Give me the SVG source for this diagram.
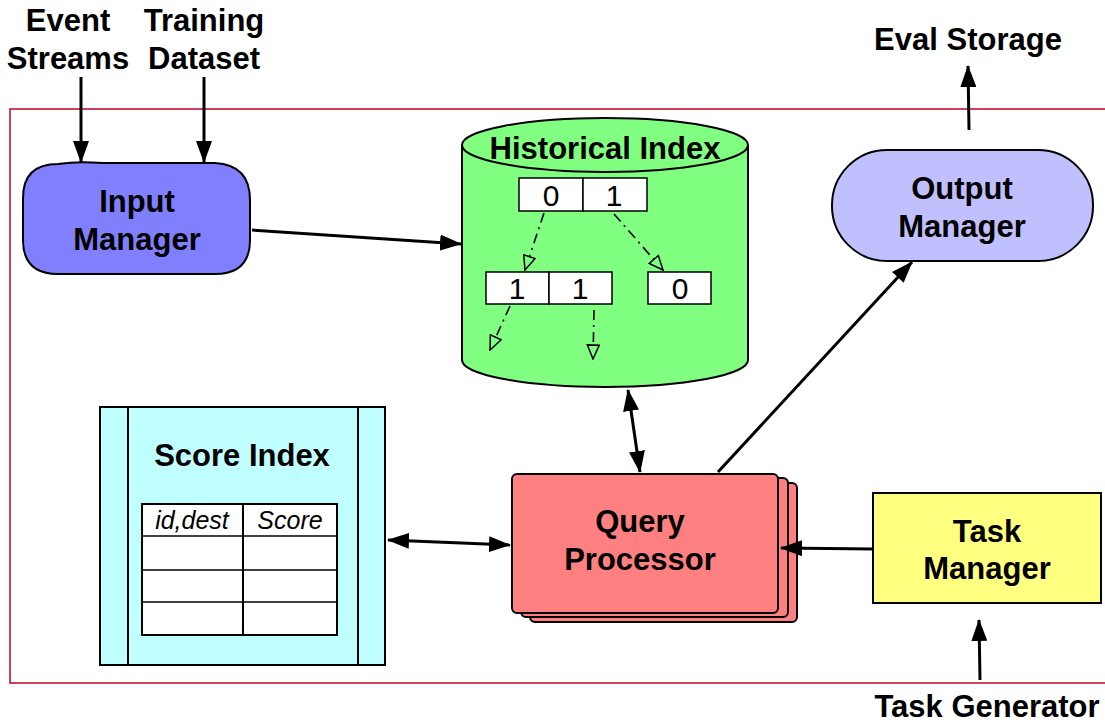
<svg xmlns="http://www.w3.org/2000/svg" width="1105" height="726" viewBox="0 0 1105 726">
<style>
.lbl{font-family:"Liberation Sans",Arial,sans-serif;font-weight:bold;font-size:31px;fill:#000;text-anchor:middle}
.num{font-family:"Liberation Sans",Arial,sans-serif;font-size:30px;fill:#000;text-anchor:middle}
.it{font-family:"Liberation Sans",Arial,sans-serif;font-style:italic;font-size:25px;fill:#000;text-anchor:middle}
.node{stroke:#000;stroke-width:2}
.conn{stroke:#000;stroke-width:3;fill:none}
.dd{stroke:#000;stroke-width:1.6;fill:none;stroke-dasharray:10 5 2 5}
.cell{fill:#fff;stroke:#000;stroke-width:1.5}
</style>
<defs>
<marker id="ah" viewBox="0 0 22 16" refX="21" refY="8" markerWidth="22" markerHeight="16" markerUnits="userSpaceOnUse" orient="auto-start-reverse">
<path d="M0,0 L22,8 L0,16 Z" fill="#000"/>
</marker>
<marker id="oh" viewBox="0 0 16 14" refX="15" refY="7" markerWidth="16" markerHeight="14" markerUnits="userSpaceOnUse" orient="auto">
<path d="M1,1 L15,7 L1,13 Z" fill="#80ff80" stroke="#000" stroke-width="1.5"/>
</marker>
</defs>
<rect width="1105" height="726" fill="#fff"/>
<rect id="frame" x="10" y="109" width="1110" height="574" fill="none" stroke="#c0002a" stroke-width="1.5"/>

<g id="labels">
<text class="lbl" x="68" y="31">Event</text>
<text class="lbl" x="68" y="69">Streams</text>
<text class="lbl" x="204" y="31">Training</text>
<text class="lbl" x="204" y="69">Dataset</text>
<text class="lbl" x="968" y="50">Eval Storage</text>
<text class="lbl" x="987" y="717">Task Generator</text>
</g>

<g id="input-manager">
<path class="node" fill="#8080ff" d="M58,164 Q78,161 102,163 L215,163 Q250,165 250,200 L250,240 Q250,274 215,274 L58,274 Q23,274 23,240 L23,198 Q23,164 58,164 Z"/>
<text class="lbl" x="137" y="212">Input</text>
<text class="lbl" x="137" y="250">Manager</text>
</g>

<g id="historical-index">
<path class="node" fill="#80ff80" d="M462,145 L462,360 A143,27 0 0 0 748,360 L748,145"/>
<ellipse class="node" fill="#80ff80" cx="605" cy="145" rx="143" ry="27"/>
<text class="lbl" x="605" y="159">Historical Index</text>
<rect class="cell" x="519" y="178" width="64" height="33"/>
<rect class="cell" x="583" y="178" width="64" height="33"/>
<text class="num" x="551" y="206">0</text>
<text class="num" x="614" y="206">1</text>
<rect class="cell" x="486" y="272" width="63" height="32"/>
<rect class="cell" x="549" y="272" width="63" height="32"/>
<rect class="cell" x="648" y="272" width="63" height="32"/>
<text class="num" x="517" y="299">1</text>
<text class="num" x="580" y="299">1</text>
<text class="num" x="680" y="299">0</text>
<line class="dd" x1="544" y1="213" x2="525" y2="270" marker-end="url(#oh)"/>
<line class="dd" x1="614" y1="214" x2="663" y2="270" marker-end="url(#oh)"/>
<line class="dd" x1="510" y1="306" x2="490" y2="350" marker-end="url(#oh)"/>
<line class="dd" x1="594" y1="310" x2="593" y2="359" marker-end="url(#oh)"/>
</g>

<g id="output-manager">
<rect class="node" fill="#c0c0ff" x="832" y="150" width="261" height="111" rx="55" ry="55"/>
<text class="lbl" x="962" y="199">Output</text>
<text class="lbl" x="962" y="237">Manager</text>
</g>

<g id="score-index">
<rect class="node" fill="#c0ffff" x="100" y="407" width="285" height="258"/>
<line class="node" x1="128" y1="407" x2="128" y2="665"/>
<line class="node" x1="358" y1="407" x2="358" y2="665"/>
<text class="lbl" x="242" y="466">Score Index</text>
<rect x="142" y="504" width="195" height="131" fill="#fff" stroke="#000" stroke-width="2"/>
<line x1="243" y1="504" x2="243" y2="635" stroke="#000" stroke-width="2"/>
<line x1="142" y1="536" x2="337" y2="536" stroke="#000" stroke-width="1.5"/>
<line x1="142" y1="570" x2="337" y2="570" stroke="#000" stroke-width="1.5"/>
<line x1="142" y1="602" x2="337" y2="602" stroke="#000" stroke-width="1.5"/>
<text class="it" x="192" y="529">id,dest</text>
<text class="it" x="290" y="529">Score</text>
</g>

<g id="query-processor">
<rect class="node" fill="#ff8080" x="530" y="483" width="267" height="139" rx="5"/>
<rect class="node" fill="#ff8080" x="521" y="478" width="267" height="139" rx="5"/>
<rect class="node" fill="#ff8080" x="512" y="474" width="266" height="139" rx="5"/>
<text class="lbl" x="640" y="532">Query</text>
<text class="lbl" x="640" y="570">Processor</text>
</g>

<g id="task-manager">
<rect class="node" fill="#ffff80" x="873" y="493" width="228" height="110"/>
<text class="lbl" x="987" y="542">Task</text>
<text class="lbl" x="987" y="579">Manager</text>
</g>

<g id="connectors">
<line class="conn" x1="81" y1="77" x2="81" y2="162" marker-end="url(#ah)"/>
<line class="conn" x1="204" y1="77" x2="204" y2="162" marker-end="url(#ah)"/>
<line class="conn" x1="969" y1="130" x2="968" y2="66" marker-end="url(#ah)"/>
<line class="conn" x1="980" y1="680" x2="979" y2="620" marker-end="url(#ah)"/>
<line class="conn" x1="252" y1="230" x2="461" y2="244" marker-end="url(#ah)"/>
<line class="conn" x1="628" y1="390" x2="640" y2="472" marker-start="url(#ah)" marker-end="url(#ah)"/>
<line class="conn" x1="718" y1="472" x2="912" y2="262" marker-end="url(#ah)"/>
<line class="conn" x1="873" y1="549" x2="781" y2="548" marker-end="url(#ah)"/>
<line class="conn" x1="388" y1="540" x2="510" y2="545" marker-start="url(#ah)" marker-end="url(#ah)"/>
</g>
</svg>
